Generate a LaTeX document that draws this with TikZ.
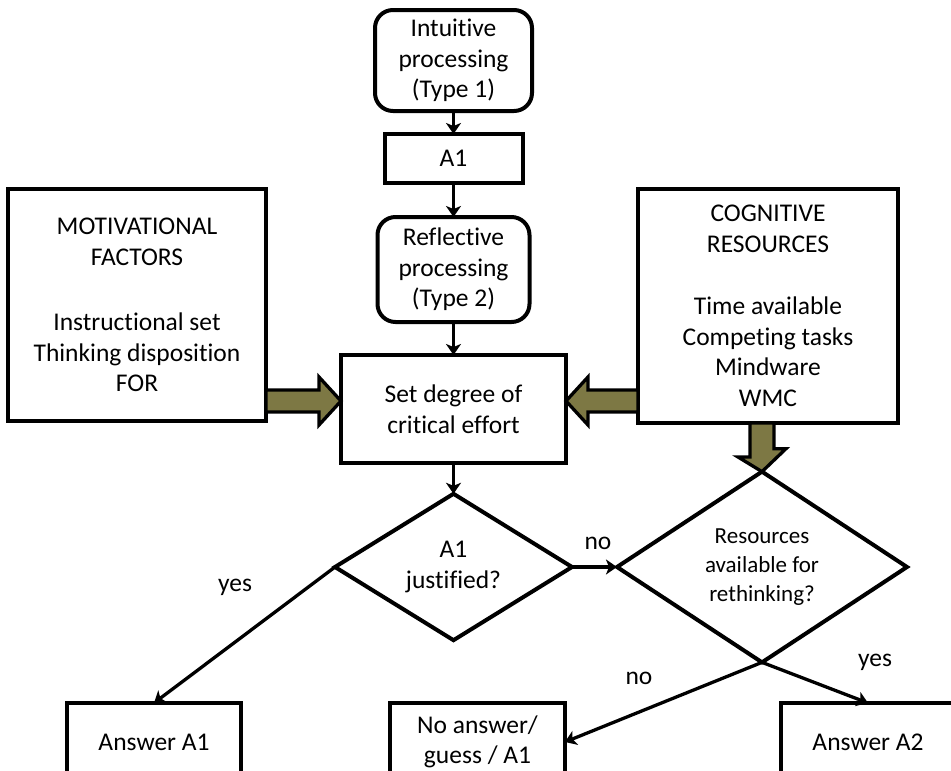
\documentclass[tikz,border=0pt]{standalone}
\usepackage{fontspec}
\setmainfont{Carlito}[Ligatures=NoCommon]
\usetikzlibrary{shapes.geometric,arrows.meta,calc}
\definecolor{olivefill}{RGB}{125,120,68}
\begin{document}
\begin{tikzpicture}[x=1pt,y=-1pt,
  every node/.style={font=\fontsize{25.5}{30.5}\selectfont, align=center, inner sep=0pt, outer sep=0pt},
  box/.style={draw, line width=4pt, rectangle},
  rbox/.style={box, rounded corners=18pt},
  dia/.style={draw, line width=4pt, diamond},
  conn/.style={line width=3.3pt, -{Stealth[length=11pt,width=15pt,inset=3pt]}},
  bigarr/.style={draw, line width=3.3pt, fill=olivefill, line join=miter},
  small/.style={font=\fontsize{23}{29}\selectfont}
]
\useasboundingbox (0,0) rectangle (951,771);
\clip (0,0) rectangle (951,771);

% boxes
\node[rbox, minimum width=157pt, minimum height=101pt] (intu) at (453.5,60.5) {Intuitive\\processing\\(Type 1)};
\node[box, minimum width=138pt, minimum height=49pt] (a1) at (453.5,158.5) {A1};
\node[rbox, minimum width=152pt, minimum height=105pt] (refl) at (453.5,269.5) {Reflective\\processing\\(Type 2)};
\node[box, minimum width=225pt, minimum height=108pt] (set) at (453.5,409) {Set degree of\\critical effort};
\node[box, minimum width=258pt, minimum height=232pt] (mot) at (137,305) {MOTIVATIONAL\\FACTORS\\[35pt]Instructional set\\Thinking disposition\\FOR};
\node[box, minimum width=260pt, minimum height=234pt] (cog) at (768,306) {COGNITIVE\\RESOURCES\\[32pt]Time available\\Competing tasks\\Mindware\\WMC};

% decisions
\node[dia, minimum width=237pt, minimum height=124pt] (d1) at (453.5,567) {A1\\justified?};
\node[dia, small, minimum width=290pt, minimum height=174pt] (d2) at (762,567) {Resources\\available for\\rethinking?};

% outcomes
\node[box, minimum width=174pt, minimum height=78pt] (ans1) at (154,742) {Answer A1};
\node[box, minimum width=175pt, minimum height=78pt] (ans0) at (477.5,742) {No answer/\\guess / A1};
\node[box, minimum width=174pt, minimum height=78pt] (ans2) at (868,742) {Answer A2};

% connectors
\draw[conn] (intu) -- (a1);
\draw[conn] (a1) -- (refl);
\draw[conn] (refl) -- (set);
\draw[conn] (set) -- (d1);
\draw[conn] (d1.east) -- (d2.west);
\draw[conn] (d1.west) -- (ans1.north);
\draw[conn] (d2.south) -- (ans2.north);
\draw[conn] (d2.south) -- (ans0.east);

% labels
\node (lno1) at (598,543) {no};
\node (lyes1) at (235,587) {yes};
\node (lyes2) at (875,662) {yes};
\node (lno2) at (639,678) {no};

% big olive arrows
\coordinate (ya) at (0,401);
\draw[bigarr] ($(mot.east|-ya)+(0,-11)$) -- ++(53,0) -- ++(0,-13) -- (set.west|-ya) -- ++(-22,24) -- ++(0,-13) -- ($(mot.east|-ya)+(0,11)$) -- cycle;
\draw[bigarr] ($(cog.west|-ya)+(0,-11)$) -- ++(-50,0) -- ++(0,-13) -- (set.east|-ya) -- ++(22,24) -- ++(0,-13) -- ($(cog.west|-ya)+(0,11)$) -- cycle;
\draw[bigarr] ($(d2.north|-cog.south)+(-12,0)$) -- ++(0,34) -- ++(-12,0) -- (d2.north) -- ++(24,-23) -- ++(-12,0) -- ($(d2.north|-cog.south)+(12,0)$) -- cycle;
\end{tikzpicture}
\end{document}
